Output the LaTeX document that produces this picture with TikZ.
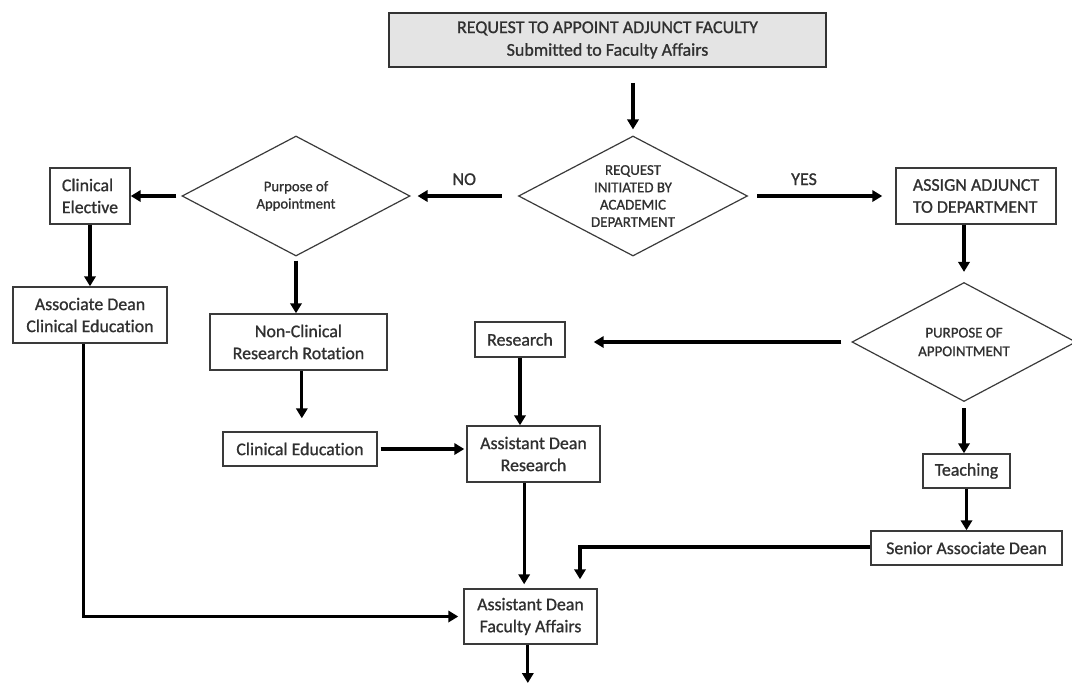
\documentclass[tikz,border=0pt]{standalone}
\usepackage{fontspec}
\setmainfont{Carlito}[Ligatures=NoCommon, RawFeature={embolden=1.0}]
\usetikzlibrary{shapes.geometric,arrows.meta}
\definecolor{txt}{HTML}{303030}
\definecolor{edge}{HTML}{3A3A3A}
\definecolor{topfill}{HTML}{E4E4E4}
\tikzset{
  box/.style={draw=edge, line width=1.1pt, inner sep=0pt, align=center, text=txt,
    font=\fontsize{13.4}{16.5}\selectfont},
  dia/.style={draw=edge, line width=0.9pt, shape=diamond, inner sep=0pt},
  diatext/.style={text=txt, align=center, inner sep=0pt},
  conn/.style={line width=2.3pt, -{Triangle[length=7.5pt,width=8.5pt]}},
  lbl/.style={text=txt, font=\fontsize{13.5}{15}\selectfont, inner sep=0pt}
}
\begin{document}
\begin{tikzpicture}[x=0.75pt,y=-0.75pt]
\useasboundingbox (0,0) rectangle (1072,683);

% nodes
\node[box, fill=topfill, draw=black!80, line width=1.4pt, minimum width=327.75pt, minimum height=40.5pt,
  font=\fontsize{13.5}{17}\selectfont] (top) at (607.5,40)
  {REQUEST TO APPOINT ADJUNCT FACULTY\\Submitted to Faculty Affairs};

\node[dia, minimum width=171.75pt, minimum height=90pt] (cd) at (633,196) {};
\node[diatext, font=\fontsize{11.2}{13}\selectfont] (cdt) at (cd.center)
  {REQUEST\\INITIATED BY\\ACADEMIC\\DEPARTMENT};

\node[dia, minimum width=171pt, minimum height=90pt] (ld) at (296,196) {};
\node[diatext, font=\fontsize{11}{13}\selectfont] (ldt) at (ld.center)
  {Purpose of\\Appointment};

\node[dia, minimum width=168pt, minimum height=89.25pt] (rd) at (964,342) {};
\node[diatext, font=\fontsize{11.2}{14}\selectfont] (rdt) at (rd.center)
  {PURPOSE OF\\APPOINTMENT};

\node[box, minimum width=60pt, minimum height=42pt, align=left] (ce) at (90,196)
  {Clinical\\Elective};
\node[box, minimum width=115.5pt, minimum height=42pt] (ad) at (90,315)
  {Associate Dean\\Clinical Education};
\node[box, minimum width=132.75pt, minimum height=42pt] (nc) at (298.5,342)
  {Non-Clinical\\Research Rotation};
\node[box, minimum width=115.5pt, minimum height=25.5pt] (cled) at (300,449)
  {Clinical Education};
\node[box, minimum width=67.5pt, minimum height=26.25pt] (res) at (520,339.5)
  {Research};
\node[box, minimum width=99.75pt, minimum height=42pt] (adr) at (533.5,454)
  {Assistant Dean\\Research};
\node[box, minimum width=120pt, minimum height=42pt, align=left] (asg) at (976,196)
  {ASSIGN ADJUNCT\\TO DEPARTMENT};
\node[box, minimum width=65.25pt, minimum height=25.5pt] (tea) at (966.5,471)
  {Teaching};
\node[box, minimum width=143.25pt, minimum height=25.5pt] (sen) at (966.5,548)
  {Senior Associate Dean};
\node[box, minimum width=99.75pt, minimum height=41.25pt] (fa) at (530.5,616.5)
  {Assistant Dean\\Faculty Affairs};

\coordinate (sj) at (580,547);
\coordinate (fin) at (528,683);

% connectors
\draw[conn, shorten <=11.25pt, shorten >=4.5pt] (top.south -| cd.north) -- (cd.north);
\draw[conn, shorten <=6.75pt, shorten >=9.75pt] (cd.east) -- (asg.west)
  node[lbl, pos=0.38, above=7pt] {YES};
\draw[conn, shorten <=12pt, shorten >=5.25pt] (cd.west) -- (ld.east)
  node[lbl, pos=0.5, above=7pt] {NO};
\draw[conn, shorten <=3.75pt] (ld.west) -- (ce.east);
\draw[conn, shorten <=3pt] (ld.south) -- (ld.south |- nc.north);
\draw[conn] (ce.south) -- (ad.north);
\draw[conn, shorten >=9.75pt] ([xshift=2.5pt]nc.south) -- ([xshift=2.5pt]nc.south |- cled.north);
\draw[conn, shorten <=2.25pt, shorten >=1.5pt] (cled.east) -- (cled.east -| adr.west);
\draw[conn, shorten <=7.5pt, shorten >=21pt] (rd.west) -- (rd.west -| res.east);
\draw[conn] (res.south) -- (res.south |- adr.north);
\draw[conn, shorten >=7.5pt] (rd.north |- asg.south) -- (rd.north);
\draw[conn, shorten <=4.5pt] (rd.south) -- (rd.south |- tea.north);
\draw[conn] (tea.south) -- (tea.south |- sen.north);
\draw[conn, shorten >=6.75pt] (sen.west |- sj) -- (sj) -- (sj |- fa.north);
\draw[conn, shorten >=3pt] ([xshift=-7pt]adr.south) -- ([xshift=-7pt]adr.south |- fa.north);
\draw[conn, shorten >=3.75pt] ([xshift=-5pt]ad.south) -- ([xshift=-5pt]ad.south |- fa.west) -- (fa.west);
\draw[conn] ([xshift=-2pt]fa.south) -- ([xshift=-2pt]fa.south |- fin);
\end{tikzpicture}
\end{document}
